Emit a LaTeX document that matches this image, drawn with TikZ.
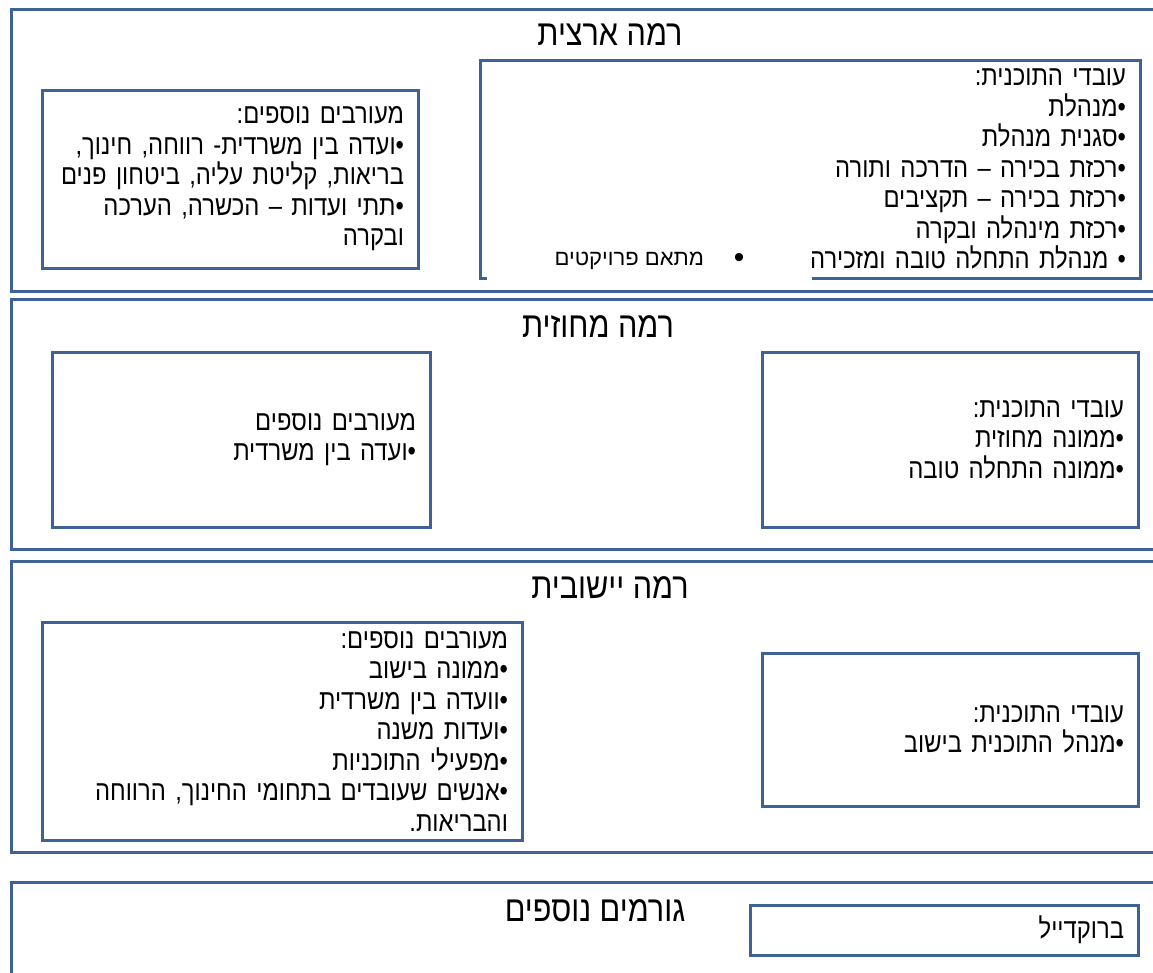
\documentclass[tikz,border=0pt]{standalone}
\usepackage{fontspec}
\setmainfont{Liberation Sans}
\newfontfamily\hebfont[Script=Hebrew]{Liberation Sans}
\newfontfamily\hebnarrow[Script=Hebrew, FakeStretch=0.85]{Liberation Sans}
\usetikzlibrary{positioning}
\TeXXeTstate=1
\newcommand{\rl}[1]{\beginR #1\endR}
\definecolor{frameblue}{HTML}{3F6295}

\begin{document}
\begin{tikzpicture}[
    x=1pt, y=-1pt,
    band/.style={rectangle, draw=frameblue, line width=3pt, anchor=north west, minimum width=1180pt},
    box/.style={rectangle, draw=frameblue, line width=3pt, fill=white, align=right, inner xsep=14pt, inner ysep=2pt, font=\hebnarrow\fontsize{28}{30.5}\selectfont},
    title/.style={font=\hebnarrow\fontsize{36}{40}\selectfont},
    cover/.style={rectangle, fill=white, inner sep=0pt, font=\hebfont\fontsize{22}{24}\selectfont}
]
    \useasboundingbox (0,0) rectangle (1153,972);
    \clip (0,0) rectangle (1153,972);

    \node [band, minimum height=282pt] (national) at (10,8) {};
    \node [band, minimum height=250pt] (district) at (10,298) {};
    \node [band, minimum height=291pt] (local) at (10,560) {};
    \node [band, minimum height=140pt] (extra) at (10,881) {};

    \node [title] (nattitle) at (610,35) {\rl{רמה ארצית}};
    \node [title] (disttitle) at (598,327) {\rl{רמה מחוזית}};
    \node [title] (loctitle) at (610,588) {\rl{רמה יישובית}};
    \node [title] (extratitle) at (595,911) {\rl{גורמים נוספים}};

    \node [box, text width=348pt, minimum height=178pt] (natpartners) at (230,179) {
        \rl{מעורבים נוספים:}\\
        \rl{•ועדה בין משרדית- רווחה, חינוך,}\\
        \rl{בריאות, קליטת עליה, ביטחון פנים}\\
        \rl{•תתי ועדות – הכשרה, הערכה}\\
        \rl{ובקרה}};
    \node [box, text width=632pt, minimum height=218pt] (natstaff) at (810,169) {
        \rl{עובדי התוכנית:}\\
        \rl{•מנהלת}\\
        \rl{•סגנית מנהלת}\\
        \rl{•רכזת בכירה – הדרכה ותורה}\\
        \rl{•רכזת בכירה – תקציבים}\\
        \rl{•רכזת מינהלה ובקרה}\\
        \rl{• מנהלת התחלה טובה ומזכירה}};
    \node [cover, minimum width=325pt, minimum height=41pt] (coordinator) at (649.5,260.5) {\rl{{\fontsize{30}{30}\selectfont•}\hspace{30pt}\raisebox{2pt}{מתאם פרויקטים}}};

    \node [box, text width=350pt, minimum height=175pt] (distpartners) at (241,439.5) {
        \rl{מעורבים נוספים}\\
        \rl{•ועדה בין משרדית}};
    \node [box, text width=348pt, minimum height=175pt] (diststaff) at (950,439.5) {
        \rl{עובדי התוכנית:}\\
        \rl{•ממונה מחוזית}\\
        \rl{•ממונה התחלה טובה}};

    \node [box, text width=452pt, minimum height=218pt] (locpartners) at (282,731) {
        \rl{מעורבים נוספים:}\\
        \rl{•ממונה בישוב}\\
        \rl{•וועדה בין משרדית}\\
        \rl{•ועדות משנה}\\
        \rl{•מפעילי התוכניות}\\
        \rl{•אנשים שעובדים בתחומי החינוך, הרווחה}\\
        \rl{והבריאות.}};
    \node [box, text width=348pt, minimum height=153pt] (locstaff) at (950,729.5) {
        \rl{עובדי התוכנית:}\\
        \rl{•מנהל התוכנית בישוב}};

    \node [box, text width=360pt, minimum height=50pt] (brookdale) at (944,930) {\rl{ברוקדייל}};
\end{tikzpicture}
\end{document}
